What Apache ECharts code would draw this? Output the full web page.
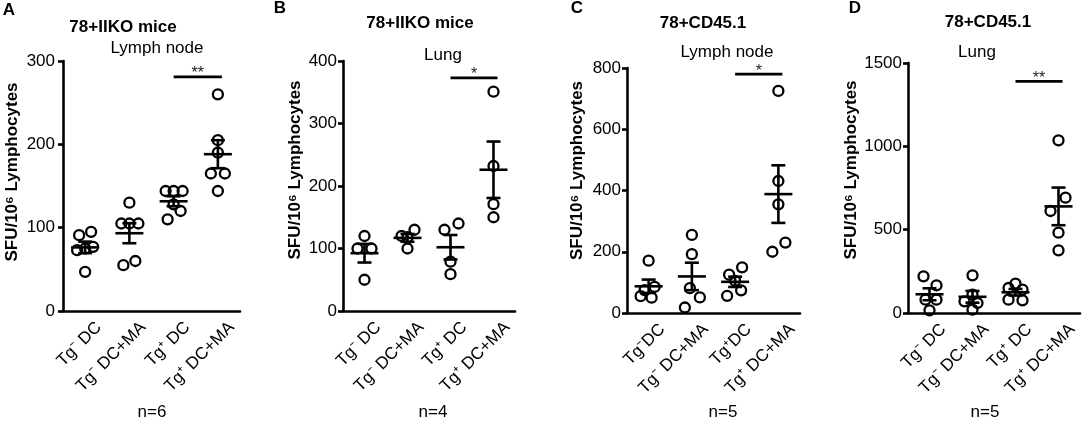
<!DOCTYPE html>
<html>
<head>
<meta charset="utf-8">
<title>SFU / 10^6 Lymphocytes</title>
<script src="https://cdn.jsdelivr.net/npm/echarts@6/dist/echarts.min.js"></script>
<style>
  html, body { margin: 0; padding: 0; background: #fff; }
  #main { width: 1084px; height: 422px; }
</style>
</head>
<body>
<div id="main"></div>
<script>
// x categories
var groups = ['Tg⁻ DC', 'Tg⁻ DC+MA', 'Tg⁺ DC', 'Tg⁺ DC+MA'];
var groupsC = ['Tg⁻DC', 'Tg⁻ DC+MA', 'Tg⁺DC', 'Tg⁺ DC+MA'];

// A: 78+IIKO mice, lymph node, n=6
var iikoLymph = [
  [91, 95, 73, 75, 77, 47],
  [130, 105, 105, 105, 55, 60],
  [144, 144, 144, 128, 120, 110],
  [260, 205, 190, 165, 165, 144]
];
// B: 78+IIKO mice, lung, n=4
var iikoLung = [
  [120, 100, 100, 50],
  [120, 118, 130, 100],
  [130, 140, 79, 59],
  [351, 232, 171, 150]
];
// C: 78+CD45.1, lymph node, n=5
var cd45Lymph = [
  [171, 85, 75, 55, 50],
  [255, 192, 81, 51, 18],
  [125, 149, 105, 56, 74],
  [725, 431, 355, 200, 230]
];
// D: 78+CD45.1, lung, n=5
var cd45Lung = [
  [220, 166, 80, 80, 16],
  [226, 110, 70, 60, 20],
  [176, 150, 140, 80, 76],
  [1036, 692, 612, 482, 376]
];

// y axis ticks
var yMax = [300, 400, 800, 1500];
var yStep = [100, 100, 200, 500];

// significance bars (Tg+ DC vs Tg+ DC+MA)
var sigText = ['**', '*', '*', '**'];
var sigLevel = [281, 373, 780, 1390];

// panel texts
var letters = ['A', 'B', 'C', 'D'];
var mice = ['78+IIKO mice', '78+IIKO mice', '78+CD45.1', '78+CD45.1'];
var tissue = ['Lymph node', 'Lung', 'Lymph node', 'Lung'];
var nText = ['n=6', 'n=4', 'n=5', 'n=5'];
var yName = 'SFU/10⁶ Lymphocytes';

var panels = [iikoLymph, iikoLung, cd45Lymph, cd45Lung];
var panelCats = [groups, groups, groupsC, groups];

// ---- layout (pixels) ----
var grids = [
  { left: 63, top: 61, width: 177, height: 250 },
  { left: 343, top: 61, width: 172, height: 250 },
  { left: 627, top: 68, width: 173, height: 245 },
  { left: 908, top: 63, width: 172, height: 250 }
];
// horizontal scatter of the dots inside a column
var jitter = [
  [[-6, 6, -8, 0, 8, 0], [0, -8, 0, 9, -6, 6], [-8, 0, 9, 0, 7, -6], [0, 0, 0, -7, 7, 0]],
  [[0, -7, 7, 0], [-6, 0, 7, 0], [-6, 8, 0, 0], [0, 0, 0, 0]],
  [[0, 6, -4, -8, 3], [0, 0, -2, 8, -7], [-6, 7, 0, -8, 6], [0, 0, 0, -6, 7]],
  [[-6, 7, -4, 7, 0], [0, 0, -8, 5, 0], [0, -7, 7, -7, 7], [0, 7, -8, 0, 0]]
];
var nameGaps = [42, 39, 41, 46];
var nameShift = [28, 32, 40, 36];
var labelMargin = [8, 6, 6, 6];
var letterPos = [[9, 10], [280, 8], [577, 8], [855, 8]];
var micePos = [[123, 27], [420, 23], [703, 23], [988, 22]];
var tissuePos = [[157, 48], [443, 55], [727, 52], [977, 52]];
var nPos = [[152, 412], [433, 412], [723, 412], [985, 412]];

var FONT = '"Liberation Sans", Arial, Helvetica, sans-serif';
var black = '#000';

// mean and SEM of one column
function meanSem(arr) {
  var n = arr.length, s = 0, ss = 0, i;
  for (i = 0; i < n; i++) s += arr[i];
  var m = s / n;
  for (i = 0; i < n; i++) ss += (arr[i] - m) * (arr[i] - m);
  return [m, Math.sqrt(ss / (n - 1)) / Math.sqrt(n)];
}

// mean line + SEM whiskers
function renderErr(params, api) {
  var x = api.value(0), m = api.value(1), s = api.value(2);
  var c = api.coord([x, m]);
  var hi = api.coord([x, m + s]);
  var lo = api.coord([x, m - s]);
  var st = { stroke: black, lineWidth: 2.6 };
  return {
    type: 'group',
    children: [
      { type: 'line', shape: { x1: c[0], y1: hi[1], x2: c[0], y2: lo[1] }, style: st },
      { type: 'line', shape: { x1: c[0] - 14, y1: c[1], x2: c[0] + 14, y2: c[1] }, style: st },
      { type: 'line', shape: { x1: c[0] - 7, y1: hi[1], x2: c[0] + 7, y2: hi[1] }, style: st },
      { type: 'line', shape: { x1: c[0] - 7, y1: lo[1], x2: c[0] + 7, y2: lo[1] }, style: st }
    ]
  };
}

// significance bar between column 2 and 3
function makeSig(i) {
  return function (params, api) {
    var a = api.coord([api.value(0), api.value(2)]);
    var b = api.coord([api.value(1), api.value(2)]);
    return {
      type: 'group',
      children: [
        { type: 'line', shape: { x1: a[0], y1: a[1], x2: b[0] + 4, y2: b[1] },
          style: { stroke: black, lineWidth: 2.6 } },
        { type: 'text', x: (a[0] + b[0] + 4) / 2, y: a[1] - 3,
          style: { text: sigText[i], font: '16px ' + FONT, fill: '#222',
                   align: 'center', verticalAlign: 'middle',
                   textAlign: 'center', textVerticalAlign: 'middle' } }
      ]
    };
  };
}

function txt(x, y, text, font) {
  return {
    type: 'text', x: x, y: y, silent: true,
    style: { text: text, font: font, fill: black,
             align: 'center', verticalAlign: 'middle',
             textAlign: 'center', textVerticalAlign: 'middle' }
  };
}

var option = {
  animation: false,
  backgroundColor: '#fff',
  textStyle: { fontFamily: FONT },
  grid: [],
  xAxis: [],
  yAxis: [],
  series: [],
  graphic: []
};

for (var i = 0; i < 4; i++) {
  option.grid.push({
    left: grids[i].left, top: grids[i].top,
    width: grids[i].width, height: grids[i].height,
    containLabel: false, outerBoundsMode: 'none'
  });

  option.xAxis.push({
    gridIndex: i,
    type: 'category',
    data: panelCats[i],
    axisLine: { lineStyle: { color: black, width: 2.6 } },
    axisTick: { alignWithLabel: true, length: 5, lineStyle: { color: black, width: 2.6 } },
    axisLabel: {
      interval: 0, rotate: 45, color: black, fontSize: 17, fontFamily: FONT,
      margin: 0, verticalAlign: 'top', padding: [11, 0, 0, 0]
    },
    splitLine: { show: false }
  });

  option.yAxis.push({
    gridIndex: i,
    type: 'value',
    min: 0, max: yMax[i], interval: yStep[i],
    axisLine: { show: true, lineStyle: { color: black, width: 2.6 } },
    axisTick: { show: true, length: 5, lineStyle: { color: black, width: 2.6 } },
    axisLabel: {
      color: black, fontSize: 17, fontFamily: FONT, margin: labelMargin[i],
      formatter: function (v) { return String(v); }
    },
    splitLine: { show: false },
    name: yName,
    nameLocation: 'middle',
    nameGap: nameGaps[i],
    nameTextStyle: {
      color: black, fontSize: 17, fontWeight: 'bold', fontFamily: FONT,
      padding: [0, 0, 0, nameShift[i]]
    }
  });

  // dots
  var pts = [], bars = [];
  for (var g = 0; g < 4; g++) {
    var col = panels[i][g];
    for (var k = 0; k < col.length; k++) {
      pts.push({ value: [g, col[k]], symbolOffset: [jitter[i][g][k], 0] });
    }
    var ms = meanSem(col);
    bars.push([g, ms[0], ms[1]]);
  }

  option.series.push({
    type: 'scatter',
    xAxisIndex: i, yAxisIndex: i,
    symbol: 'circle', symbolSize: 10,
    itemStyle: { color: 'rgba(255,255,255,0)', borderColor: black, borderWidth: 2.3, opacity: 1 },
    emphasis: { disabled: true },
    silent: true,
    data: pts,
    z: 3
  });

  option.series.push({
    type: 'custom',
    xAxisIndex: i, yAxisIndex: i,
    renderItem: renderErr,
    encode: { x: 0, y: [1] },
    silent: true,
    data: bars,
    z: 2
  });

  option.series.push({
    type: 'custom',
    xAxisIndex: i, yAxisIndex: i,
    renderItem: makeSig(i),
    encode: { x: [0, 1], y: 2 },
    silent: true,
    clip: false,
    data: [[2, 3, sigLevel[i]]],
    z: 2
  });

  option.graphic.push(txt(letterPos[i][0], letterPos[i][1], letters[i], 'bold 17px ' + FONT));
  option.graphic.push(txt(micePos[i][0], micePos[i][1], mice[i], 'bold 17px ' + FONT));
  option.graphic.push(txt(tissuePos[i][0], tissuePos[i][1], tissue[i], '17px ' + FONT));
  option.graphic.push(txt(nPos[i][0], nPos[i][1], nText[i], '17px ' + FONT));
}

var chart = echarts.init(document.getElementById('main'));
chart.setOption(option);
</script>
</body>
</html>
